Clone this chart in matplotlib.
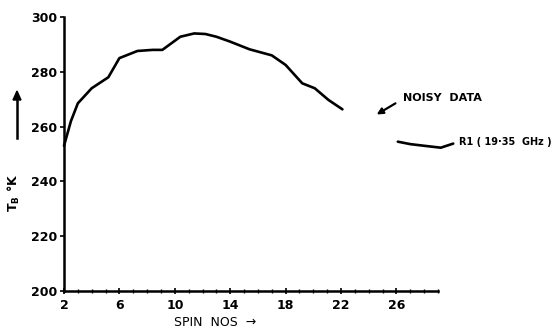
import numpy as np
import matplotlib.pyplot as plt

# R1 (19.35 GHz) brightness temperature vs spin number
spin_a = [2, 2.5, 3, 4, 5.2, 6, 7.3, 8.4, 9.1, 10.4, 11.4, 12.2, 13, 14, 15.4, 17, 18, 19.2, 20.1, 21.1, 22.1]
tb_a = [253, 262, 268.5, 274, 278, 285, 287.6, 288, 288, 292.8, 294, 293.8, 292.8, 291, 288.2, 286, 282.5, 275.8, 274, 269.7, 266.3]

spin_b = [26.1, 27, 28, 29.2, 30.1]
tb_b = [254.5, 253.6, 253, 252.3, 253.8]

xticks = [2, 6, 10, 14, 18, 22, 26]
yticks = [200, 220, 240, 260, 280, 300]

plt.rcParams['font.family'] = ['DejaVu Sans']

fig = plt.figure(figsize=(5.58, 3.35), dpi=100)
ax = fig.add_axes([64 / 558, 1 - 291 / 335, (438 - 64) / 558, (291 - 17) / 335])

ax.plot(spin_a, tb_a, color='black', lw=1.9, solid_capstyle='round', clip_on=False)
ax.plot(spin_b, tb_b, color='black', lw=1.9, solid_capstyle='round', clip_on=False)

ax.set_xlim(2, 29)
ax.set_ylim(200, 300)
ax.set_xticks(xticks)
ax.set_xticks(np.arange(2, 30, 1), minor=True)
ax.set_yticks(yticks)
ax.set_xticklabels([str(v) for v in xticks], fontsize=9, fontweight='bold')
ax.set_yticklabels([str(v) for v in yticks], fontsize=9, fontweight='bold')
ax.tick_params(axis='y', direction='out', length=3, width=1.2, pad=2)
ax.tick_params(axis='x', which='major', direction='inout', length=5, width=1.2, pad=3)
ax.tick_params(axis='x', which='minor', direction='inout', length=3, width=1)

for s in ['top', 'right']:
    ax.spines[s].set_visible(False)
for s in ['left', 'bottom']:
    ax.spines[s].set_linewidth(1.8)

# annotations
ax.annotate('', xy=(24.4, 263.9), xytext=(26.1, 269),
            arrowprops=dict(arrowstyle='-|>', color='black', lw=1.6, mutation_scale=9),
            annotation_clip=False)
ax.text(26.5, 270.5, 'NOISY  DATA', fontsize=8, fontweight='bold', va='center', ha='left')
ax.text(30.5, 254.2, 'R1 ( 19·35  GHz )', fontsize=7, fontweight='bold', va='center', ha='left')

# axis labels
fig.text(215 / 558, 1 - 323 / 335, 'SPIN  NOS  →', fontsize=9, ha='center', va='center')
fig.text(14 / 558, 1 - 193 / 335, r'T$_\mathregular{B}$ °K', fontsize=9, fontweight='bold',
         rotation=90, ha='center', va='center')
fig.add_artist(plt.Line2D([17 / 558, 17 / 558], [1 - 138 / 335, 1 - 100 / 335], color='black', lw=1.8))
fig.add_artist(plt.Polygon([[13 / 558, 1 - 100 / 335], [21 / 558, 1 - 100 / 335], [17 / 558, 1 - 91 / 335]],
                           closed=True, color='black'))

fig.savefig('out.png', dpi=100)
